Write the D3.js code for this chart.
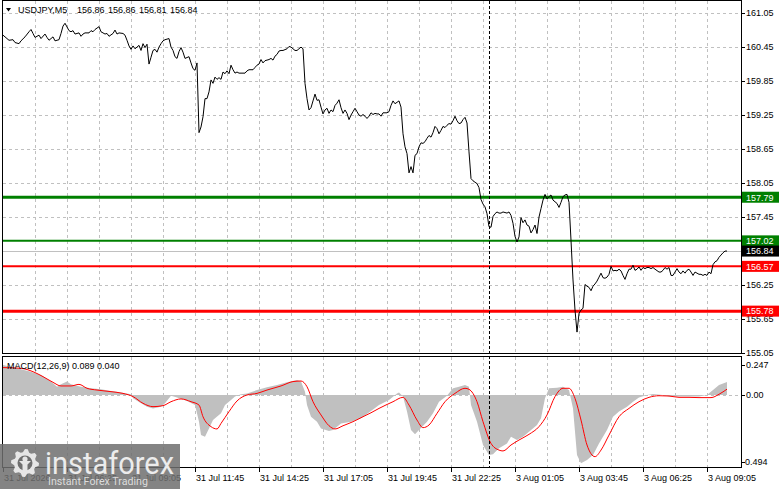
<!DOCTYPE html>
<html><head><meta charset="utf-8">
<script src="https://cdn.jsdelivr.net/npm/d3@7"></script>
<style>html,body{margin:0;padding:0;background:#fff;overflow:hidden}</style>
</head><body><svg id="c" width="781" height="489" xmlns="http://www.w3.org/2000/svg"></svg>
<script>
// ---------------- DATA ----------------
const symbolTitle = "USDJPY,M5";
const ohlcValues = ["156.86", "156.86", "156.81", "156.84"];
const macdTitle = "MACD(12,26,9) 0.089 0.040";

const priceTicks = [161.05, 160.45, 159.85, 159.25, 158.65, 158.05, 157.45, 156.85, 156.25, 155.65, 155.05];
const macdTicks = [0.247, 0.00, -0.494];
const timeTickBars = [0, 32, 64, 96, 128, 160, 192, 224, 256, 288, 320, 352];
const timeTickLabels = ["31 Jul 2026", "31 Jul 06:25", "31 Jul 09:05", "31 Jul 11:45", "31 Jul 14:25", "31 Jul 17:05",
  "31 Jul 19:45", "31 Jul 22:25", "3 Aug 01:05", "3 Aug 03:45", "3 Aug 06:25", "3 Aug 09:05"];

const levelPrices = [157.79, 157.02, 156.57, 155.78];
const levelKinds = ["resistance", "resistance", "support", "support"];
const lastPrice = 156.84;
const markerBar = 243;

// close prices (bar index -> close)
const closeBars = [0,2,3,5,6,8,9,11,13,14,15,16,18,19,21,22,23,25,26,28,29,30,31,33,34,35,36,38,39,40,41,43,44,45,46,48,49,50,51,52,53,55,56,57,58,60,61,62,63,64,65,66,68,69,70,71,72,73,74,75,76,77,78,79,80,81,83,84,85,86,87,88,89,90,91,93,94,95,96,97,98,99,100,101,102,103,104,105,106,107,108,109,110,111,112,113,114,115,116,117,118,120,121,122,123,125,126,127,128,129,130,131,133,134,135,136,137,138,139,140,142,143,144,145,146,147,148,149,150,151,152,153,154,155,156,157,158,159,160,161,162,163,164,165,166,167,168,169,170,171,172,173,174,175,176,177,178,179,180,181,182,183,184,185,186,187,188,189,190,192,193,194,195,196,198,199,200,201,202,203,204,205,206,207,208,209,210,211,212,213,214,215,216,217,218,219,220,221,222,223,224,225,226,227,228,229,230,231,232,233,234,235,237,238,239,240,241,242,243,244,245,246,247,248,249,250,252,253,254,255,256,257,258,259,260,261,262,263,264,265,266,267,268,269,270,271,272,273,274,275,277,278,279,280,281,282,283,284,285,286,287,288,289,290,291,292,293,294,295,296,297,298,299,300,301,302,303,304,305,306,307,308,309,310,311,312,313,314,315,316,317,318,319,320,321,322,323,324,325,326,328,329,330,331,332,333,334,335,336,337,338,339,340,341,342,343,344,345,346,347,348,349,350,351,352,353,354,355,356,357,358,359,360,361,362];
const closeValues = [160.65,160.59,160.56,160.57,160.52,160.50,160.55,160.62,160.71,160.75,160.68,160.61,160.65,160.59,160.67,160.61,160.56,160.62,160.55,160.57,160.68,160.81,160.86,160.73,160.71,160.73,160.67,160.69,160.63,160.67,160.69,160.69,160.73,160.71,160.75,160.80,160.71,160.69,160.67,160.68,160.63,160.68,160.74,160.67,160.69,160.68,160.65,160.56,160.46,160.40,160.46,160.41,160.47,160.38,160.50,160.43,160.49,160.14,160.26,160.38,160.40,160.35,160.44,160.50,160.55,160.57,160.59,160.44,160.38,160.27,160.24,160.36,160.43,160.35,160.24,160.27,160.16,160.06,160.03,160.16,158.93,159.03,159.21,159.53,159.53,159.65,159.86,159.80,159.91,159.87,159.90,159.87,160.00,159.97,160.02,159.97,160.12,160.04,159.98,160.00,159.98,159.98,159.98,160.02,160.04,160.04,160.08,160.12,160.14,160.22,160.16,160.20,160.22,160.24,160.21,160.28,160.31,160.37,160.38,160.38,160.41,160.45,160.44,160.41,160.38,160.38,160.41,160.44,160.41,159.80,159.53,159.33,159.37,159.49,159.61,159.50,159.51,159.38,159.26,159.33,159.36,159.27,159.33,159.30,159.41,159.45,159.51,159.37,159.27,159.33,159.27,159.16,159.24,159.30,159.36,159.30,159.24,159.22,159.25,159.22,159.18,159.22,159.28,159.25,159.27,159.26,159.26,159.22,159.28,159.28,159.30,159.41,159.49,159.44,159.49,159.38,158.91,158.68,158.56,158.22,158.33,158.22,158.53,158.56,158.68,158.75,158.74,158.77,158.83,158.88,158.85,158.93,159.04,159.00,158.91,158.97,159.04,159.02,159.06,159.09,159.08,159.14,159.22,159.14,159.09,159.10,159.16,159.20,159.10,158.59,158.12,158.08,158.03,157.96,157.75,157.67,157.62,157.50,157.27,157.26,157.45,157.50,157.53,157.51,157.51,157.53,157.51,157.53,157.47,157.33,157.10,157.00,157.09,157.43,157.34,157.39,157.30,157.28,157.16,157.22,157.30,157.15,157.44,157.59,157.74,157.84,157.76,157.80,157.83,157.74,157.68,157.61,157.70,157.80,157.83,157.84,157.70,157.03,156.33,155.80,155.41,155.74,155.80,155.83,156.25,156.22,156.20,156.14,156.22,156.26,156.31,156.38,156.45,156.37,156.36,156.38,156.43,156.57,156.49,156.50,156.49,156.52,156.49,156.41,156.34,156.44,156.52,156.52,156.59,156.50,156.52,156.56,156.50,156.55,156.53,156.55,156.55,156.53,156.55,156.52,156.47,156.47,156.50,156.55,156.52,156.55,156.41,156.41,156.47,156.53,156.47,156.44,156.49,156.45,156.50,156.52,156.47,156.41,156.47,156.45,156.43,156.43,156.41,156.43,156.41,156.47,156.44,156.60,156.65,156.67,156.73,156.77,156.81,156.84,156.84];

// MACD main (histogram)
const histBars = [0,7,14,19,24,27,29,32,34,39,44,49,54,59,64,65,69,72,75,79,81,83,84,87,92,96,98,99,101,103,105,109,111,114,116,119,122,127,132,137,142,147,149,151,152,154,157,159,163,165,169,174,179,184,188,193,197,198,200,202,204,206,208,212,215,218,222,225,228,231,233,234,237,240,243,245,248,252,254,257,260,263,267,269,271,273,277,280,283,285,287,289,292,295,298,302,305,308,312,315,318,322,325,330,333,338,343,348,352,355,358,362];
const histValues = [0.206,0.183,0.160,0.137,0.092,0.057,0.073,0.092,0.073,0.057,0.046,0.039,0.027,0.018,0.005,-0.023,-0.057,-0.080,-0.092,-0.080,-0.057,-0.023,-0.005,-0.018,-0.041,-0.069,-0.183,-0.275,-0.286,-0.229,-0.172,-0.126,-0.069,-0.034,-0.011,0.005,0.011,0.034,0.053,0.069,0.087,0.103,0.092,0.023,-0.069,-0.149,-0.183,-0.229,-0.247,-0.240,-0.195,-0.183,-0.160,-0.110,-0.069,-0.034,0.011,0.018,-0.011,-0.114,-0.240,-0.270,-0.240,-0.183,-0.126,-0.046,-0.005,0.046,0.057,0.069,0.057,-0.069,-0.183,-0.343,-0.412,-0.407,-0.366,-0.332,-0.286,-0.309,-0.286,-0.252,-0.206,-0.160,-0.023,0.046,0.050,0.057,0.034,-0.092,-0.412,-0.469,-0.446,-0.412,-0.332,-0.240,-0.149,-0.114,-0.080,-0.046,-0.018,0.000,0.007,0.000,-0.011,-0.011,-0.011,-0.011,0.000,0.034,0.069,0.089];

// MACD signal line
const signalBars = [0,9,15,20,25,29,34,38,42,47,54,60,65,70,75,80,84,89,94,98,100,104,107,109,113,117,122,127,132,139,145,149,152,155,159,163,166,170,175,180,184,188,195,200,203,207,210,213,217,221,226,231,233,237,240,244,248,250,254,258,263,268,272,276,280,283,286,289,292,296,299,303,308,313,318,323,328,333,338,343,348,354,358,362];
const signalValues = [0.188,0.183,0.160,0.126,0.087,0.062,0.062,0.073,0.046,0.034,0.023,0.011,-0.011,-0.057,-0.080,-0.073,-0.046,-0.027,-0.046,-0.069,-0.149,-0.217,-0.233,-0.195,-0.114,-0.041,0.000,0.011,0.034,0.062,0.092,0.096,0.057,-0.046,-0.137,-0.211,-0.233,-0.211,-0.183,-0.149,-0.122,-0.092,-0.046,-0.016,-0.069,-0.172,-0.224,-0.206,-0.126,-0.046,0.011,0.046,0.039,-0.046,-0.183,-0.332,-0.378,-0.384,-0.343,-0.309,-0.270,-0.217,-0.137,-0.011,0.046,0.046,-0.023,-0.172,-0.343,-0.423,-0.378,-0.275,-0.149,-0.092,-0.046,-0.016,-0.005,-0.007,-0.016,-0.016,-0.018,-0.018,0.005,0.040];

// ---------------- STYLE ----------------
const FONT = "'Liberation Sans', Arial, sans-serif";
const levelColor = { resistance: "#008000", support: "#ff0000" };
const levelWidth = [3, 2, 2, 3];

// ---------------- SCALES ----------------
const svg = d3.select("#c");
const L = 2.5, R = 741.5, T = 0.5, MB = 353.5, MT = 356.5, BB = 467.5;
const x = d3.scaleLinear().domain([0, 369]).range([3, 741]);
const y = d3.scaleLinear().domain([155.05, 161.05]).range([352.5, 12.5]);
const ym = d3.scaleLinear().domain([-0.494, 0.247]).range([467, 359]);

const defs = svg.append("defs");
defs.append("clipPath").attr("id", "cm").append("rect").attr("x", L).attr("y", T).attr("width", R - L).attr("height", MB - T);
defs.append("clipPath").attr("id", "cd").append("rect").attr("x", L).attr("y", MT).attr("width", R - L).attr("height", BB - MT);

// ---------------- GRID ----------------
const grid = svg.append("g").attr("stroke", "#c0c0c0").attr("stroke-dasharray", "3,3")
  .attr("shape-rendering", "crispEdges").attr("fill", "none");
grid.selectAll("line.h").data(priceTicks).join("line").attr("class", "h")
  .attr("x1", L).attr("x2", R).attr("y1", d => Math.round(y(d)) + 0.5).attr("y2", d => Math.round(y(d)) + 0.5);
const vGrid = d3.range(16, 360, 16);
grid.selectAll("line.v").data(vGrid).join("line").attr("class", "v")
  .attr("x1", d => Math.round(x(d)) + 0.5).attr("x2", d => Math.round(x(d)) + 0.5).attr("y1", T).attr("y2", MB);
grid.selectAll("line.v2").data(vGrid).join("line").attr("class", "v2")
  .attr("x1", d => Math.round(x(d)) + 0.5).attr("x2", d => Math.round(x(d)) + 0.5).attr("y1", MT).attr("y2", BB);
grid.append("line").attr("x1", L).attr("x2", R).attr("y1", Math.round(ym(0)) + 0.5).attr("y2", Math.round(ym(0)) + 0.5);

// ---------------- MAIN PANEL ----------------
const gm = svg.append("g").attr("clip-path", "url(#cm)");
// last price line
gm.append("line").attr("x1", L).attr("x2", R).attr("y1", Math.round(y(lastPrice)) + 0.5).attr("y2", Math.round(y(lastPrice)) + 0.5)
  .attr("stroke", "#c0c0c0").attr("shape-rendering", "crispEdges");
// levels
gm.selectAll("line.lvl").data(levelPrices).join("line").attr("class", "lvl")
  .attr("x1", L).attr("x2", R).attr("y1", d => y(d)).attr("y2", d => y(d))
  .attr("stroke", (d, i) => levelColor[levelKinds[i]]).attr("stroke-width", (d, i) => levelWidth[i]);
// price line
const priceData = closeBars.map((b, i) => [b, closeValues[i]]);
gm.append("path").datum(priceData)
  .attr("d", d3.line().x(d => x(d[0])).y(d => y(d[1])))
  .attr("fill", "none").attr("stroke", "#000").attr("stroke-width", 1);

// ---------------- MACD PANEL ----------------
const gd = svg.append("g").attr("clip-path", "url(#cd)");
const histData = histBars.map((b, i) => [b, histValues[i]]);
gd.append("path").datum(histData)
  .attr("d", d3.area().x(d => x(d[0])).y0(ym(0)).y1(d => ym(d[1])))
  .attr("fill", "#c0c0c0");
const sigData = signalBars.map((b, i) => [b, signalValues[i]]);
gd.append("path").datum(sigData)
  .attr("d", d3.line().curve(d3.curveMonotoneX).x(d => x(d[0])).y(d => ym(d[1])))
  .attr("fill", "none").attr("stroke", "#ff0000").attr("stroke-width", 1);

// vertical dashed marker
svg.append("line").attr("x1", Math.round(x(markerBar)) + 0.5).attr("x2", Math.round(x(markerBar)) + 0.5)
  .attr("y1", T).attr("y2", BB).attr("stroke", "#000").attr("stroke-dasharray", "3,2").attr("shape-rendering", "crispEdges");

// ---------------- FRAMES ----------------
const frame = svg.append("g").attr("fill", "none").attr("stroke", "#000").attr("shape-rendering", "crispEdges");
frame.append("rect").attr("x", L).attr("y", T).attr("width", R - L).attr("height", MB - T);
frame.append("rect").attr("x", L).attr("y", MT).attr("width", R - L).attr("height", BB - MT);

// ---------------- AXES ----------------
const axR = svg.append("g").attr("font-family", FONT).attr("font-size", 9).attr("fill", "#000");
axR.selectAll("line.t").data(priceTicks).join("line").attr("class", "t")
  .attr("x1", R).attr("x2", R + 3).attr("y1", d => Math.round(y(d)) + 0.5).attr("y2", d => Math.round(y(d)) + 0.5)
  .attr("stroke", "#000").attr("shape-rendering", "crispEdges");
axR.selectAll("text.t").data(priceTicks).join("text").attr("class", "t")
  .attr("x", 746).attr("y", d => y(d) + 3.3).text(d => d.toFixed(2));

// level labels
const lbl = svg.append("g").attr("font-family", FONT).attr("font-size", 9);
const boxes = levelPrices.map((p, i) => ({ p, c: levelColor[levelKinds[i]] }));
boxes.push({ p: lastPrice, c: "#000" });
lbl.selectAll("rect").data(boxes).join("rect")
  .attr("x", 742).attr("y", d => y(d.p) - 5.5).attr("width", 37).attr("height", 11).attr("fill", d => d.c);
lbl.selectAll("text").data(boxes).join("text")
  .attr("x", 746).attr("y", d => y(d.p) + 3.3).attr("fill", "#fff").text(d => d.p.toFixed(2));

// MACD axis
const macdLabelY = d => Math.max(365, Math.min(461.5, ym(d)));
axR.selectAll("line.m").data(macdTicks).join("line").attr("class", "m")
  .attr("x1", R).attr("x2", R + 3).attr("y1", d => Math.round(macdLabelY(d)) + 0.5).attr("y2", d => Math.round(macdLabelY(d)) + 0.5)
  .attr("stroke", "#000").attr("shape-rendering", "crispEdges");
axR.selectAll("text.m").data(macdTicks).join("text").attr("class", "m")
  .attr("x", d => d < 0 ? 742 : 746).attr("y", d => macdLabelY(d) + 3.3)
  .text(d => d === 0 ? "0.00" : d.toFixed(3));

// time axis
const axB = svg.append("g").attr("font-family", FONT).attr("font-size", 9).attr("fill", "#000");
axB.selectAll("line").data(timeTickBars).join("line")
  .attr("x1", d => Math.round(x(d)) + 0.5).attr("x2", d => Math.round(x(d)) + 0.5).attr("y1", BB).attr("y2", BB + 4)
  .attr("stroke", "#000").attr("shape-rendering", "crispEdges");
axB.selectAll("text").data(timeTickBars).join("text")
  .attr("x", d => x(d) + 1).attr("y", 481).text((d, i) => timeTickLabels[i]);

// ---------------- TITLES ----------------
const tt = svg.append("g").attr("font-family", FONT).attr("font-size", 9).attr("fill", "#000");
tt.append("path").attr("d", "M6,8 L11,8 L8.5,11.5 Z").attr("fill", "#000");
tt.append("text").attr("x", 18).attr("y", 13).text(symbolTitle);
tt.selectAll("text.v").data(ohlcValues).join("text").attr("class", "v")
  .attr("x", (d, i) => 77 + i * 31).attr("y", 13).text(d => d);
tt.append("text").attr("x", 7).attr("y", 369).text(macdTitle);

// ---------------- WATERMARK ----------------
const wm = svg.append("g");
wm.append("rect").attr("x", 0).attr("y", 444).attr("width", 180).attr("height", 45).attr("fill", "#6f6f6f").attr("opacity", 0.85);
// gear
const cx = 25, cy = 463, teeth = 8, ro = 14, ri = 11;
const gp = d3.path();
for (let k = 0; k < teeth * 4; k++) {
  const a = (k / (teeth * 4)) * 2 * Math.PI - Math.PI / 2;
  const r = (k % 4 === 0 || k % 4 === 1) ? ro : ri;
  const px = cx + r * Math.cos(a), py = cy + r * Math.sin(a);
  if (k === 0) gp.moveTo(px, py); else gp.lineTo(px, py);
}
gp.closePath();
wm.append("path").attr("d", gp.toString()).attr("fill", "#e6e6e6");
wm.append("circle").attr("cx", cx).attr("cy", cy).attr("r", 7.5).attr("fill", "#6f6f6f");
wm.append("circle").attr("cx", cx).attr("cy", cy - 4).attr("r", 2.6).attr("fill", "#e6e6e6");
wm.append("path").attr("d", `M${cx-6},${cy-2} L${cx+6},${cy-2} L${cx+2.5},${cy+1.5} L${cx+2.5},${cy+10} L${cx-2.5},${cy+10} L${cx-2.5},${cy+1.5} Z`).attr("fill", "#e6e6e6");
wm.append("text").attr("x", 45).attr("y", 474).attr("font-family", "Roboto, 'Open Sans', sans-serif").attr("font-size", 31)
  .attr("textLength", 129).attr("lengthAdjust", "spacingAndGlyphs").attr("fill", "#ececec").text("instaforex");
wm.append("text").attr("x", 48).attr("y", 485).attr("font-family", "Roboto, 'Open Sans', sans-serif").attr("font-size", 11)
  .attr("textLength", 100).attr("lengthAdjust", "spacingAndGlyphs").attr("fill", "#dcdcdc").text("Instant Forex Trading");
</script>
</body></html>
